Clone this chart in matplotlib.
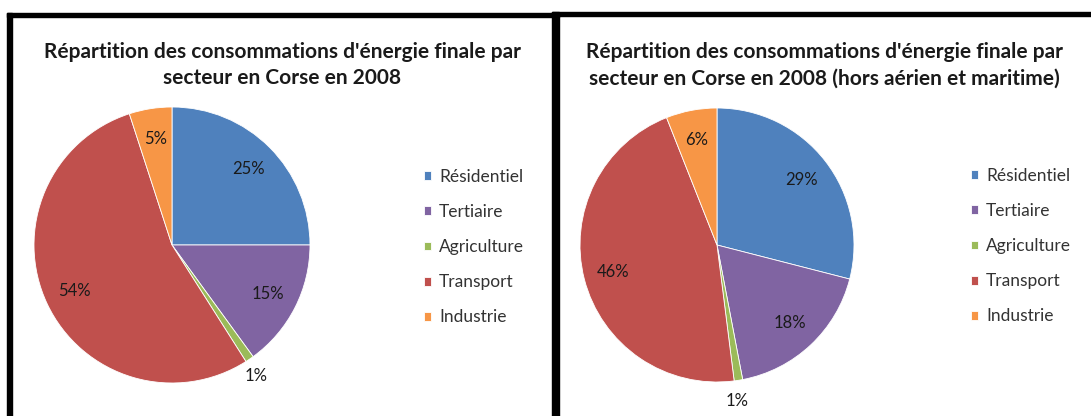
import numpy as np
import matplotlib
matplotlib.use("Agg")
import matplotlib.pyplot as plt
from matplotlib.patches import Rectangle

# ---- data ----
categories = ["Résidentiel", "Tertiaire", "Agriculture", "Transport", "Industrie"]
values_all = [25, 15, 1, 54, 5]
values_hors = [29, 18, 1, 46, 6]
title_all = "Répartition des consommations d'énergie finale par\nsecteur en Corse en 2008"
title_hors = ("Répartition des consommations d'énergie finale par\n"
              "secteur en Corse en 2008 (hors aérien et maritime)")
colors = ["#4F81BD", "#8064A2", "#9BBB59", "#C0504D", "#F79646"]

W, H = 1091, 416
plt.rcParams['font.family'] = ['Lato', 'DejaVu Sans']
fig = plt.figure(figsize=(W / 100, H / 100), dpi=100)
ax = fig.add_axes([0, 0, 1, 1])
ax.axis('off')


def img_y(y):
    return H - y


def draw_panel(values, title, cx, cy, r, title_x, leg_x, leg_y):
    wedges, texts, autotexts = ax.pie(
        values, colors=colors, startangle=90, counterclock=False,
        center=(cx, img_y(cy)), radius=r, autopct='%.0f%%', pctdistance=0.78,
        wedgeprops=dict(linewidth=0.6, edgecolor='white'),
        textprops=dict(fontsize=12, color='#1a1a1a'))
    for w, t, v in zip(wedges, autotexts, values):
        if v < 3:
            mid = np.deg2rad((w.theta1 + w.theta2) / 2)
            t.set_position((cx + 1.15 * r * np.cos(mid) - 0.035 * r,
                            img_y(cy) + 1.15 * r * np.sin(mid)))
    ax.text(title_x, img_y(65), title, ha='center', va='center',
            fontsize=15, fontweight='bold', color='#1a1a1a',
            linespacing=1.42)
    ax.legend(wedges, categories, loc='upper left',
              bbox_to_anchor=(leg_x, img_y(leg_y)), bbox_transform=ax.transData,
              frameon=False, fontsize=12.5, handlelength=0.42, handleheight=0.42,
              handletextpad=0.45, labelspacing=1.1, borderpad=0, borderaxespad=0,
              labelcolor='#333333')


draw_panel(values_all, title_all, 172, 245, 138, 282, 424, 169)
leg1 = ax.get_legend()
ax.add_artist(leg1)
draw_panel(values_hors, title_hors, 717, 245, 137, 824, 971, 168)

ax.set_xlim(0, W)
ax.set_ylim(0, H)

# panel frames (black borders)
def frame_rect(x0, y0, x1, y1):
    fig.patches.append(Rectangle((x0 / W, 1 - y1 / H), (x1 - x0) / W, (y1 - y0) / H,
                                 transform=fig.transFigure, color='black', zorder=10))

frame_rect(7, 13, 12, H)
frame_rect(7, 13, 559, 17)
frame_rect(552, 12, 559, H)
frame_rect(552, 12, W, 16)

fig.savefig("out.png", dpi=100)
